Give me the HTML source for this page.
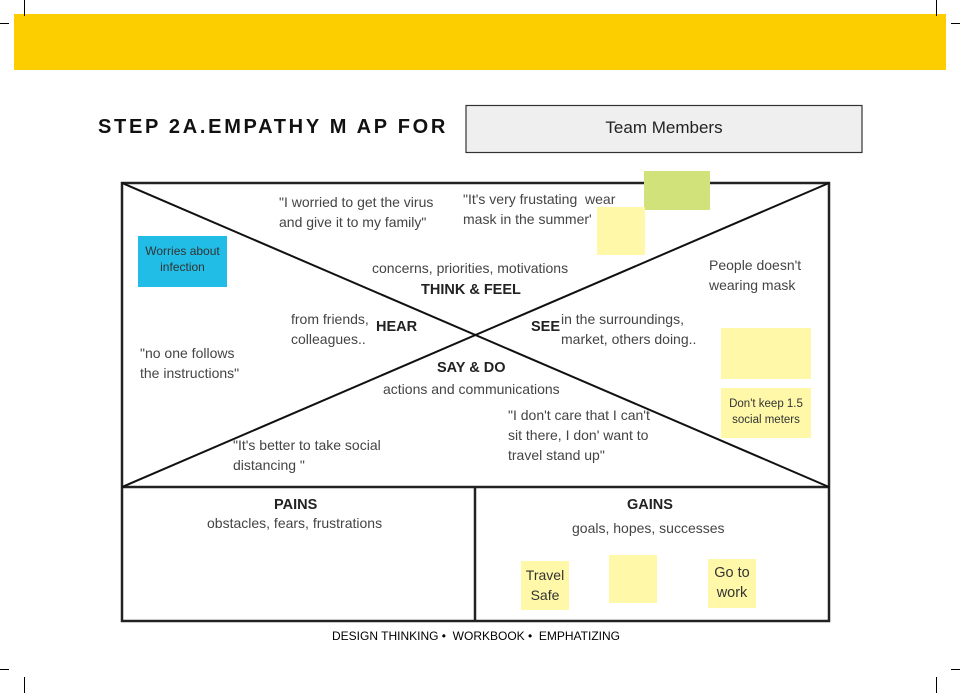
<!DOCTYPE html>
<html><head><meta charset="utf-8"><style>
body{margin:0;background:#fff;}
#p{position:relative;width:960px;height:693px;overflow:hidden;font-family:"Liberation Sans",sans-serif;color:#444;}
.a{position:absolute;white-space:nowrap;}
.t{font-size:14px;line-height:20px;}
.b{font-weight:bold;color:#222;font-size:14.5px;}
.s{position:absolute;background:#fff8a8;}
</style></head><body><div id="p">
<div style="position:absolute;left:14px;top:14px;width:932px;height:56px;background:#fcce00"></div>
<svg class="a" style="left:0;top:0" width="960" height="693">
<g stroke="#000" stroke-width="1">
<line x1="24.5" y1="0" x2="24.5" y2="16"/><line x1="936.5" y1="0" x2="936.5" y2="16"/>
<line x1="0" y1="23.5" x2="9" y2="23.5"/><line x1="951" y1="23.5" x2="960" y2="23.5"/>
<line x1="24.5" y1="677" x2="24.5" y2="693"/><line x1="936.5" y1="677" x2="936.5" y2="693"/>
<line x1="0" y1="669.5" x2="9" y2="669.5"/><line x1="951" y1="669.5" x2="960" y2="669.5"/>
</g>
<rect x="466" y="105.5" width="396" height="47" fill="#efefef" stroke="#333" stroke-width="1.2"/>
<g stroke="#222" stroke-width="2.5" fill="none">
<rect x="122" y="183" width="707" height="438"/>
<line x1="122" y1="487" x2="829" y2="487"/>
<line x1="475" y1="487" x2="475" y2="621"/>
</g>
<g stroke="#111" stroke-width="2">
<line x1="122" y1="183" x2="829" y2="487"/>
<line x1="829" y1="183" x2="122" y2="487"/>
</g>
</svg>
<div class="a" style="left:98px;top:116px;font-size:20px;font-weight:bold;letter-spacing:2.7px;color:#111;">STEP 2A.EMPATHY M AP FOR</div>
<div class="a" style="left:466px;top:118px;width:396px;text-align:center;font-size:17px;color:#222">Team Members</div>

<div class="s" style="left:644px;top:171px;width:66px;height:39px;background:#d1e27b"></div>
<div class="s" style="left:597px;top:207px;width:48px;height:48px"></div>
<div class="a" style="left:138px;top:236px;width:89px;height:51px;background:#22bde6"></div>
<div class="a" style="left:138px;top:243px;width:89px;text-align:center;font-size:12px;line-height:16px;color:#333">Worries about<br>infection</div>
<div class="s" style="left:721px;top:328px;width:90px;height:51px"></div>
<div class="s" style="left:721px;top:388px;width:90px;height:50px"></div>
<div class="a" style="left:721px;top:396px;width:90px;text-align:center;font-size:11.5px;line-height:16px;color:#333">Don't keep 1.5<br>social meters</div>
<div class="s" style="left:521px;top:561px;width:48px;height:49px"></div>
<div class="a" style="left:521px;top:565px;width:48px;text-align:center;font-size:14px;line-height:20px;color:#333">Travel<br>Safe</div>
<div class="s" style="left:609px;top:555px;width:48px;height:48px"></div>
<div class="s" style="left:708px;top:559px;width:48px;height:49px"></div>
<div class="a" style="left:708px;top:563px;width:48px;text-align:center;font-size:14.5px;line-height:20px;color:#333">Go to<br>work</div>

<div class="a t" style="left:279px;top:192px">"I worried to get the virus<br>and give it to my family"</div>
<div class="a t" style="left:463px;top:189px">"It's very frustating&nbsp; wear<br>mask in the summer'</div>
<div class="a t" style="left:709px;top:255px">People doesn't<br>wearing mask</div>
<div class="a t" style="left:372px;top:258px">concerns, priorities, motivations</div>
<div class="a b" style="left:421px;top:282px">THINK &amp; FEEL</div>
<div class="a t" style="left:291px;top:309px">from friends,<br>colleagues..</div>
<div class="a b" style="left:376px;top:319px">HEAR</div>
<div class="a b" style="left:531px;top:319px">SEE</div>
<div class="a t" style="left:561px;top:309px">in the surroundings,<br>market, others doing..</div>
<div class="a t" style="left:140px;top:343px">"no one follows<br>the instructions"</div>
<div class="a b" style="left:437px;top:360px">SAY &amp; DO</div>
<div class="a t" style="left:383px;top:379px">actions and communications</div>
<div class="a t" style="left:508px;top:405px">"I don't care that I can't<br>sit there, I don' want to<br>travel stand up"</div>
<div class="a t" style="left:233px;top:435px">"It's better to take social<br>distancing "</div>
<div class="a b" style="left:274px;top:497px">PAINS</div>
<div class="a t" style="left:207px;top:513px">obstacles, fears, frustrations</div>
<div class="a b" style="left:627px;top:497px">GAINS</div>
<div class="a t" style="left:572px;top:518px">goals, hopes, successes</div>
<div class="a" style="left:332px;top:629px;font-size:12px;color:#000">DESIGN THINKING •&nbsp; WORKBOOK •&nbsp; EMPHATIZING</div>
</div></body></html>
